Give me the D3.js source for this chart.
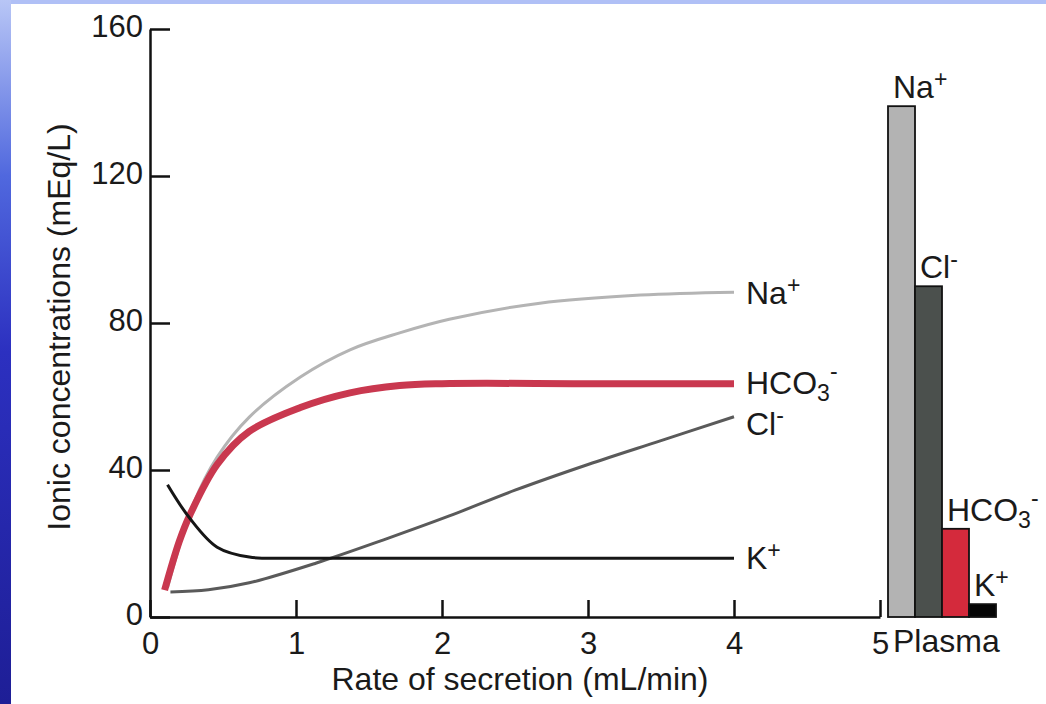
<!DOCTYPE html>
<html>
<head>
<meta charset="utf-8">
<script src="https://cdn.jsdelivr.net/npm/d3@7"></script>
<style>
  html, body { margin: 0; padding: 0; background: #fff; }
  svg { display: block; font-family: "Liberation Sans", Arial, Helvetica, sans-serif; }
</style>
</head>
<body>
<script>
// secretion curves (x = rate in mL/min, y = mEq/L)
const naRate = [0.12, 0.3, 0.46, 0.68, 1.03, 1.37, 1.71, 2.05, 2.67, 3.36, 4.0];
const naConc = [8, 31, 43.5, 54.4, 65.3, 72.7, 77.3, 81, 85.4, 87.6, 88.4];
const hco3Rate = [0.1, 0.2, 0.27, 0.46, 0.68, 1.03, 1.37, 1.71, 2.0, 3.0, 4.0];
const hco3Conc = [7.3, 20.5, 27.5, 41.5, 50.5, 57, 61, 63, 63.5, 63.5, 63.5];
const clRate = [0.14, 0.4, 0.68, 1.14, 1.6, 2.05, 2.5, 3.0, 3.5, 4.0];
const clConc = [6.8, 7.4, 9.3, 14.7, 21, 27.5, 34.5, 41.5, 48, 54.5];
const kRate = [0.12, 0.27, 0.46, 0.68, 1.0, 2.0, 3.0, 4.0];
const kConc = [36, 27, 19, 16.3, 16, 16, 16, 16];

// plasma bars
const plasmaIons = ["Na+", "Cl-", "HCO3-", "K+"];
const plasmaConc = [139, 90, 24, 3.5];

const xTicks = [0, 1, 2, 3, 4, 5];
const yTicks = [0, 40, 80, 120, 160];

const W = 1046, H = 704;

const svg = d3.select("body")
    .append("svg")
    .attr("width", W)
    .attr("height", H);

// slide background edges
const grad = svg.append("defs").append("linearGradient")
    .attr("id", "edge").attr("x1", 0).attr("y1", 0).attr("x2", 0).attr("y2", 1);
grad.append("stop").attr("offset", 0).attr("stop-color", "#b8c6f6");
grad.append("stop").attr("offset", 0.25).attr("stop-color", "#5068de");
grad.append("stop").attr("offset", 0.5).attr("stop-color", "#2c30c0");
grad.append("stop").attr("offset", 1).attr("stop-color", "#1e1e96");

svg.append("rect").attr("x", 0).attr("y", 0).attr("width", W).attr("height", 4).attr("fill", "#b0c0f6");
svg.append("rect").attr("x", 0).attr("y", 0).attr("width", 11).attr("height", H).attr("fill", "url(#edge)");

const x = d3.scaleLinear().domain([0, 5]).range([150, 880]);
const y = d3.scaleLinear().domain([0, 160]).range([617, 29]);

// axes
const yAxis = svg.append("g")
    .attr("transform", `translate(${x(0)},0)`)
    .call(d3.axisLeft(y).tickValues(yTicks).tickFormat(d3.format("d"))
        .tickSize(-20).tickSizeOuter(0).tickPadding(7));

const xAxis = svg.append("g")
    .attr("transform", `translate(0,${y(0)})`)
    .call(d3.axisBottom(x).tickValues(xTicks).tickFormat(d3.format("d"))
        .tickSize(-17).tickSizeOuter(0).tickPadding(15));

[yAxis, xAxis].forEach(g => {
  g.selectAll("path, line").attr("stroke", "#111").attr("stroke-width", 2.5);
  g.selectAll("text").attr("font-size", 31).attr("fill", "#1a1a1a")
      .attr("font-family", "'Liberation Sans', Arial, sans-serif");
});
yAxis.selectAll("text").attr("dy", "0.25em");

svg.append("text")
    .attr("x", 893).attr("y", 652)
    .attr("font-size", 32).attr("fill", "#1a1a1a")
    .text("Plasma");

svg.append("text")
    .attr("x", 520).attr("y", 690)
    .attr("text-anchor", "middle")
    .attr("font-size", 32).attr("fill", "#1a1a1a")
    .text("Rate of secretion (mL/min)");

svg.append("text")
    .attr("transform", "translate(70,327) rotate(-90)")
    .attr("text-anchor", "middle")
    .attr("font-size", 32).attr("fill", "#1a1a1a")
    .text("Ionic concentrations (mEq/L)");

// writes an ion name with subscript digits and superscript charge
function ionLabel(sel, ion) {
  const m = ion.match(/^([A-Za-z]+)(\d?)([+-])$/);
  sel.append("tspan").text(m[1]);
  if (m[2]) {
    sel.append("tspan").attr("font-size", "0.72em").attr("dy", "0.32em").text(m[2]);
    sel.append("tspan").attr("font-size", "0.72em").attr("dy", "-0.95em").text(m[3]);
  } else {
    sel.append("tspan").attr("font-size", "0.72em").attr("dy", "-0.5em").text(m[3]);
  }
}

// curves
const series = [
  { ion: "Na+", rate: naRate, conc: naConc, color: "#b4b4b4", width: 3, labelDy: 12 },
  { ion: "Cl-", rate: clRate, conc: clConc, color: "#5a5a5a", width: 3, labelDy: 18 },
  { ion: "HCO3-", rate: hco3Rate, conc: hco3Conc, color: "#c9384f", width: 7, labelDy: 10 },
  { ion: "K+", rate: kRate, conc: kConc, color: "#161616", width: 3, labelDy: 11 }
];

const line = d3.line()
    .x(d => x(d[0]))
    .y(d => y(d[1]))
    .curve(d3.curveCatmullRom.alpha(0.5));

svg.append("g")
  .selectAll("path")
  .data(series)
  .join("path")
    .attr("fill", "none")
    .attr("stroke", d => d.color)
    .attr("stroke-width", d => d.width)
    .attr("d", d => line(d.rate.map((r, i) => [r, d.conc[i]])));

series.forEach(s => {
  const n = s.rate.length - 1;
  svg.append("text")
      .attr("x", x(s.rate[n]) + 12)
      .attr("y", y(s.conc[n]) + s.labelDy)
      .attr("font-size", 32).attr("fill", "#1a1a1a")
      .call(t => ionLabel(t, s.ion));
});

// plasma bars
const xb = d3.scaleBand().domain(plasmaIons).range([888, 996]).padding(0);
const barColor = d3.scaleOrdinal().domain(plasmaIons).range(["#b3b3b3", "#4b504d", "#d42a3c", "#050505"]);

svg.append("g")
  .selectAll("rect")
  .data(plasmaIons)
  .join("rect")
    .attr("x", d => xb(d))
    .attr("y", (d, i) => y(plasmaConc[i]))
    .attr("width", xb.bandwidth())
    .attr("height", (d, i) => y(0) - y(plasmaConc[i]))
    .attr("fill", d => barColor(d))
    .attr("stroke", "#111")
    .attr("stroke-width", 1.8);

plasmaIons.forEach((ion, i) => {
  svg.append("text")
      .attr("x", xb(ion) + 5)
      .attr("y", y(plasmaConc[i]) - 8)
      .attr("font-size", 32).attr("fill", "#1a1a1a")
      .call(t => ionLabel(t, ion));
});
</script>
</body>
</html>
